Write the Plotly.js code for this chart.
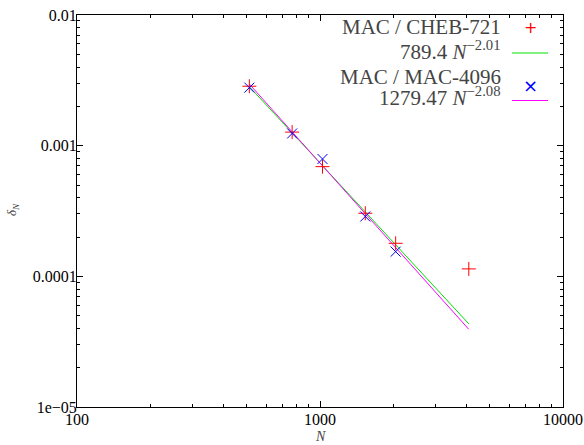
<!DOCTYPE html>
<html><head><meta charset="utf-8">
<script src="https://cdn.plot.ly/plotly-3.0.1.min.js"></script>
<style>html,body{margin:0;padding:0;background:#fff;}#plot{width:584px;height:445px;}</style>
</head><body><div id="plot"></div>
<script>
// Data
const N_cheb = [512, 768, 1024, 1536, 2048, 4096];
const delta_cheb = [2.85e-3, 1.27e-3, 6.91e-4, 3.04e-4, 1.79e-4, 1.14e-4];
const N_mac = [512, 768, 1024, 1536, 2048];
const delta_mac = [2.78e-3, 1.24e-3, 7.91e-4, 2.87e-4, 1.545e-4];
// fit line endpoints (straight on log-log)
const N_fit = [512, 4096];
const fit_cheb = [2.83e-3, 4.33e-5];
const fit_mac = [2.96e-3, 3.93e-5];

const xTickVals = [100, 1000, 10000];
const xTickText = ["100", "1000", "10000"];
const yTickVals = [1e-5, 1e-4, 1e-3, 1e-2];
const yTickText = ["1e\u221205", "0.0001", "0.001", "0.01"];
const xMinor = [200,300,400,500,600,700,800,900,2000,3000,4000,5000,6000,7000,8000,9000];
const yMinor = [2e-5,3e-5,4e-5,5e-5,6e-5,7e-5,8e-5,9e-5,2e-4,3e-4,4e-4,5e-4,6e-4,7e-4,8e-4,9e-4,2e-3,3e-3,4e-3,5e-3,6e-3,7e-3,8e-3,9e-3];

const legendLabels = ["MAC / CHEB-721", "789.4 <i>N</i><sup>\u22122.01</sup>", "MAC / MAC-4096", "1279.47 <i>N</i><sup>\u22122.08</sup>"];

const traces = [
  {x: N_fit, y: fit_cheb, mode: 'lines', line: {color: '#00e000', width: 1}, showlegend: false},
  {x: N_fit, y: fit_mac, mode: 'lines', line: {color: '#ff00ff', width: 1}, showlegend: false},
  {x: N_cheb, y: delta_cheb, mode: 'markers', marker: {symbol: 'cross-thin-open', size: 10, color: '#ff0000', line: {color: '#ff0000', width: 1}}, showlegend: false},
  {x: N_mac, y: delta_mac, mode: 'markers', marker: {symbol: 'x-thin-open', size: 10, color: '#0000ff', line: {color: '#0000ff', width: 1}}, showlegend: false}
];

const font = "'Liberation Serif', 'Times New Roman', serif";
const axisCommon = {
  type: 'log', showline: true, linecolor: '#000', linewidth: 1, mirror: 'allticks',
  ticks: 'inside', ticklen: 6, tickcolor: '#000', tickwidth: 1, showgrid: false, zeroline: false,
  tickmode: 'array', tickfont: {family: font, size: 16, color: '#000'}
};

const legY = [27, 50, 77, 97];
const annotations = legendLabels.map((t, i) => ({
  xref: 'paper', yref: 'paper', x: (503 - 77) / 486, y: 1 - (legY[i] - 15) / 392,
  xanchor: 'right', yanchor: 'middle', text: t, showarrow: false,
  font: {family: font, size: 21, color: '#444'}
}));
annotations.push({xref: 'paper', yref: 'paper', x: 0.5, y: 1 - (436 - 15) / 392, xanchor: 'center', yanchor: 'middle', text: '<i>N</i>', showarrow: false, font: {family: font, size: 14, color: '#444'}});
annotations.push({xref: 'paper', yref: 'paper', x: (12 - 77) / 486, y: 1 - (210 - 15) / 392, xanchor: 'center', yanchor: 'middle', text: '<i>\u03b4</i><sub><i>N</i></sub>', textangle: -90, showarrow: false, font: {family: font, size: 13, color: '#444'}});
annotations.push({xref: 'paper', yref: 'paper', x: (530 - 77) / 486, y: 1 - (27 - 15) / 392, xanchor: 'center', yanchor: 'middle', text: '+', showarrow: false, font: {family: 'DejaVu Sans', size: 16, color: '#ff0000'}});
annotations.push({xref: 'paper', yref: 'paper', x: (530 - 77) / 486, y: 1 - (85 - 15) / 392, xanchor: 'center', yanchor: 'middle', text: '\u00d7', showarrow: false, font: {family: 'DejaVu Sans', size: 18, color: '#0000ff'}});

const shapes = [
  {type: 'line', xref: 'paper', yref: 'paper', x0: (512 - 77) / 486, x1: (548 - 77) / 486, y0: 1 - (53 - 15) / 392, y1: 1 - (53 - 15) / 392, line: {color: '#00e000', width: 1}},
  {type: 'line', xref: 'paper', yref: 'paper', x0: (512 - 77) / 486, x1: (548 - 77) / 486, y0: 1 - (100.5 - 15) / 392, y1: 1 - (100.5 - 15) / 392, line: {color: '#ff00ff', width: 1}}
];

const layout = {
  width: 584, height: 445,
  margin: {l: 77, r: 21, t: 15, b: 38},
  paper_bgcolor: '#fff', plot_bgcolor: '#fff',
  showlegend: false,
  xaxis: Object.assign({}, axisCommon, {range: [2, 4], tickvals: xTickVals, ticktext: xTickText, ticklabelstandoff: -2,
    minor: {tickmode: 'array', tickvals: xMinor, ticks: 'inside', ticklen: 3, tickcolor: '#000', showgrid: false}}),
  yaxis: Object.assign({}, axisCommon, {range: [-5, -2], tickvals: yTickVals, ticktext: yTickText, ticklabelstandoff: -4,
    minor: {tickmode: 'array', tickvals: yMinor, ticks: 'inside', ticklen: 3, tickcolor: '#000', showgrid: false}}),
  annotations: annotations, shapes: shapes
};

Plotly.newPlot('plot', traces, layout, {staticPlot: true, displayModeBar: false});
</script></body></html>
